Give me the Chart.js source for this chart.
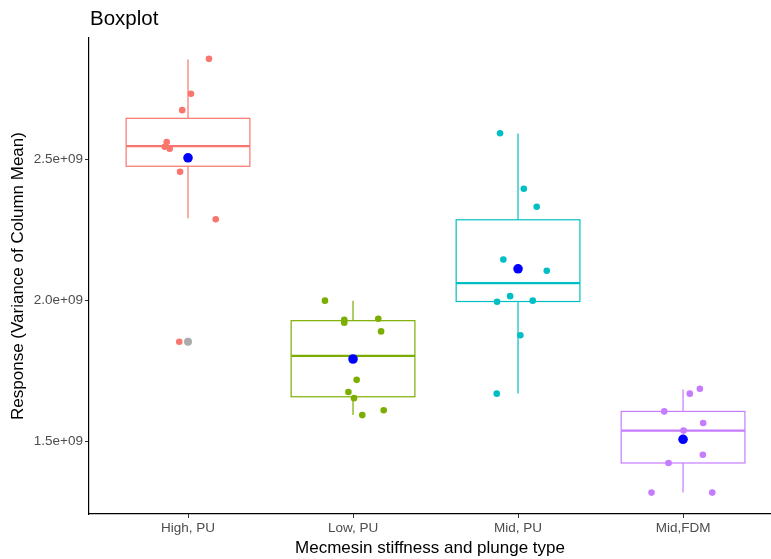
<!DOCTYPE html>
<html>
<head>
<meta charset="utf-8">
<script src="https://cdn.jsdelivr.net/npm/chart.js@4"></script>
<style>
  html, body { margin: 0; padding: 0; background: #fff; overflow: hidden; }
  #boxChart { display: block; }
</style>
</head>
<body>
<canvas id="boxChart" width="771" height="559"></canvas>
<script>
// ─── DATA (values in units of 1e9) ───
const categories = ['High, PU', 'Low, PU', 'Mid, PU', 'Mid,FDM'];
const colours = ['#F8766D', '#7CAE00', '#00BFC4', '#C77CFF'];
const yTicks = [1.5, 2.0, 2.5];

// box stats
const whiskerLo = [2.290, 1.592, 1.669, 1.317];
const q1 = [2.475, 1.657, 1.995, 1.422];
const median = [2.546, 1.802, 2.060, 1.537];
const q3 = [2.645, 1.927, 2.285, 1.605];
const whiskerHi = [2.854, 1.998, 2.591, 1.683];
const means = [2.505, 1.791, 2.111, 1.506];
const outliers = [[1.852], [], [], []];

// jittered raw points: values and horizontal jitter (category units)
const highVals = [2.856, 2.732, 2.674, 2.561, 2.544, 2.537, 2.455, 2.287, 1.852];
const highJit = [0.127, 0.018, -0.035, -0.129, -0.141, -0.111, -0.048, 0.168, -0.053];
const lowVals = [1.998, 1.930, 1.920, 1.934, 1.889, 1.717, 1.674, 1.652, 1.592, 1.609];
const lowJit = [-0.170, -0.053, -0.053, 0.153, 0.170, 0.022, -0.028, 0.006, 0.056, 0.186];
const midVals = [2.592, 2.395, 2.331, 2.144, 2.104, 2.014, 1.994, 1.998, 1.875, 1.668];
const midJit = [-0.109, 0.035, 0.113, -0.089, 0.174, -0.048, -0.127, 0.089, 0.014, -0.129];
const fdmVals = [1.685, 1.668, 1.605, 1.564, 1.537, 1.451, 1.422, 1.317, 1.317];
const fdmJit = [0.102, 0.041, -0.114, 0.122, 0.003, 0.120, -0.088, -0.191, 0.177];

const groupVals = [highVals, lowVals, midVals, fdmVals];
const groupJit = [highJit, lowJit, midJit, fdmJit];

(function () {
    'use strict';

    const E9 = 1e9;
    const BOX_HALF = 0.375;

    // ─── BOXPLOT LAYER ───
    const boxPlugin = {
        id: 'boxes',
        beforeDatasetsDraw(chart) {
            const { ctx, scales: { x, y } } = chart;
            categories.forEach((c, i) => {
                ctx.save();
                const cx = x.getPixelForValue(i + 1);
                const l = x.getPixelForValue(i + 1 - BOX_HALF);
                const r = x.getPixelForValue(i + 1 + BOX_HALF);
                const yLo = y.getPixelForValue(whiskerLo[i] * E9);
                const yQ1 = y.getPixelForValue(q1[i] * E9);
                const yMed = y.getPixelForValue(median[i] * E9);
                const yQ3 = y.getPixelForValue(q3[i] * E9);
                const yHi = y.getPixelForValue(whiskerHi[i] * E9);
                ctx.setLineDash([]);
                ctx.strokeStyle = colours[i];
                ctx.lineWidth = 1.2;
                // whiskers
                ctx.beginPath();
                ctx.moveTo(cx, yQ3); ctx.lineTo(cx, yHi);
                ctx.moveTo(cx, yQ1); ctx.lineTo(cx, yLo);
                ctx.stroke();
                // box
                ctx.fillStyle = '#fff';
                ctx.fillRect(l, yQ3, r - l, yQ1 - yQ3);
                ctx.strokeRect(l, yQ3, r - l, yQ1 - yQ3);
                // median
                ctx.lineWidth = 2.2;
                ctx.beginPath();
                ctx.moveTo(l, yMed); ctx.lineTo(r, yMed);
                ctx.stroke();
                ctx.restore();
            });
        },
        afterDraw(chart) {
            const { ctx, chartArea } = chart;
            ctx.save();
            ctx.fillStyle = '#000';
            ctx.font = '20.5px "Liberation Sans", Arial, sans-serif';
            ctx.textBaseline = 'alphabetic';
            ctx.fillText('Boxplot', chartArea.left + 1, 25);
            ctx.restore();
        }
    };

    // ─── DATASETS ───
    const outlierPts = [];
    outliers.forEach((arr, i) => arr.forEach(v => outlierPts.push({ x: i + 1, y: v * E9 })));

    const jitterSets = groupVals.map((vals, i) => ({
        label: categories[i],
        data: vals.map((v, k) => ({ x: i + 1 + groupJit[i][k], y: v * E9 })),
        backgroundColor: colours[i],
        borderWidth: 0,
        pointRadius: 3.3,
        pointHoverRadius: 3.3
    }));

    const datasets = [
        { label: 'outliers', data: outlierPts, backgroundColor: '#ABABAB', borderWidth: 0, pointRadius: 4, pointHoverRadius: 4 },
        ...jitterSets,
        { label: 'mean', data: means.map((m, i) => ({ x: i + 1, y: m * E9 })), backgroundColor: '#0000FF', borderWidth: 0, pointRadius: 4.8, pointHoverRadius: 4.8 }
    ];

    const font = { family: '"Liberation Sans", Arial, sans-serif' };

    new Chart(document.getElementById('boxChart'), {
        type: 'scatter',
        data: { datasets },
        options: {
            responsive: false,
            animation: false,
            events: [],
            layout: { autoPadding: false, padding: { top: 38, right: 0, left: 0, bottom: 0 } },
            plugins: { legend: { display: false }, tooltip: { enabled: false } },
            scales: {
                x: {
                    type: 'linear',
                    min: 0.4,
                    max: 4.533,
                    afterBuildTicks: s => { s.ticks = categories.map((c, i) => ({ value: i + 1 })); },
                    afterFit: s => { s.height = 45; s.paddingLeft = 0; s.paddingRight = 0; },
                    grid: { display: true, drawOnChartArea: false, drawTicks: true, tickLength: 4, color: '#333', lineWidth: 1 },
                    border: { display: true, color: '#000', width: 1.2 },
                    ticks: { color: '#4D4D4D', padding: 2, maxRotation: 0, autoSkip: false, font: { ...font, size: 13.5 }, callback: v => categories[v - 1] },
                    title: { display: true, text: 'Mecmesin stiffness and plunge type', color: '#000', font: { ...font, size: 17 }, padding: { top: 2, bottom: 0 } }
                },
                y: {
                    type: 'linear',
                    min: 1.241 * E9,
                    max: 2.930 * E9,
                    afterBuildTicks: s => { s.ticks = yTicks.map(v => ({ value: v * E9 })); },
                    afterFit: s => { s.width = 89; s.paddingTop = 0; s.paddingBottom = 0; },
                    grid: { display: true, drawOnChartArea: false, drawTicks: true, tickLength: 4, color: '#333', lineWidth: 1 },
                    border: { display: true, color: '#000', width: 1.2 },
                    ticks: { color: '#4D4D4D', padding: 2, font: { ...font, size: 13.5 }, callback: v => (v / E9).toFixed(1) + 'e+09' },
                    title: { display: true, text: 'Response (Variance of Column Mean)', color: '#000', font: { ...font, size: 17 }, padding: { top: 8, bottom: 0 } }
                }
            }
        },
        plugins: [boxPlugin]
    });
})();
</script>
</body>
</html>
